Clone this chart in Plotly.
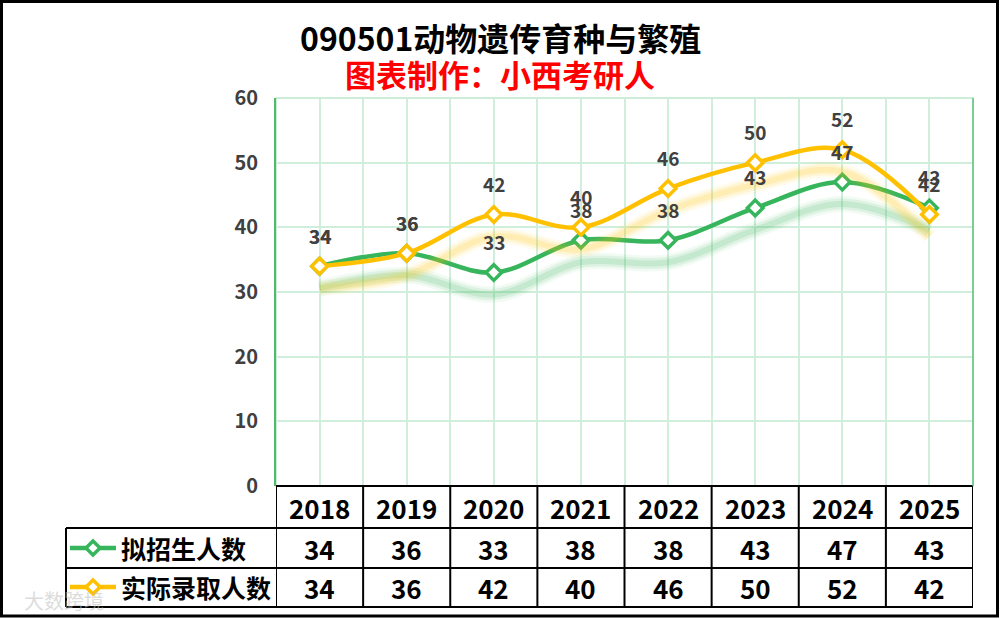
import plotly.graph_objects as go

# 090501 动物遗传育种与繁殖 拟招生 / 实际录取
years = [2018, 2019, 2020, 2021, 2022, 2023, 2024, 2025]
plan_counts = [34, 36, 33, 38, 38, 43, 47, 43]
admit_counts = [34, 36, 42, 40, 46, 50, 52, 42]
series_names = ["拟招生人数", "实际录取人数"]

GREEN = "#37b55c"
GOLD = "#ffc000"
LABEL_GRAY = "#404040"
GRID = "#cfeedb"
FONT = "Noto Sans CJK SC"

# plot area in pixels (used for placing table / title in paper coords)
PX_L, PX_R, PX_T, PX_B = 276, 973, 98, 486


def px(p):
    return (p - PX_L) / (PX_R - PX_L)


def py(p):
    return (PX_B - p) / (PX_B - PX_T)


fig = go.Figure()

# soft blurred shadows under the lines (drawn on a shifted copy of the y axis)
for vals, shade in ((plan_counts, "55,181,92"), (admit_counts, "255,192,0")):
    for w, a in ((16, 0.07), (11, 0.10), (6, 0.15)):
        fig.add_trace(go.Scatter(
            x=years, y=vals, yaxis="y2", mode="lines",
            line=dict(color=f"rgba({shade},{a})", width=w, shape="spline", smoothing=1),
            hoverinfo="skip", showlegend=False,
        ))

for vals, color, name in ((plan_counts, GREEN, series_names[0]), (admit_counts, GOLD, series_names[1])):
    fig.add_trace(go.Scatter(
        x=years, y=vals, name=name, mode="lines+markers",
        line=dict(color=color, width=4.5, shape="spline", smoothing=1),
        marker=dict(symbol="diamond", size=12, color="white", line=dict(color=color, width=3.5)),
        showlegend=False,
    ))

annotations = []
# data labels
for vals in (plan_counts, admit_counts):
    for yr, v in zip(years, vals):
        annotations.append(dict(
            x=yr, y=v, text=str(v), showarrow=False, yshift=31,
            xanchor="center", yanchor="middle",
            font=dict(family=FONT, size=19, color=LABEL_GRAY, weight="bold"),
        ))


def paper_text(x, y, text, font, xanchor="center"):
    return dict(xref="paper", yref="paper", x=x, y=y, text=text, showarrow=False,
                xanchor=xanchor, yanchor="middle", font=font)


# titles
annotations.append(paper_text(px(500), py(37), "090501动物遗传育种与繁殖",
                              dict(family=FONT, size=32, color="black", weight="bold")))
annotations.append(paper_text(px(500), py(73), "图表制作：小西考研人",
                              dict(family=FONT, size=31, color="#ff0000", weight="bold")))

# data table below the plot
shapes = []
black = dict(color="black", width=2)
row_tops = [486, 528, 568, 607]
shapes.append(dict(type="line", xref="paper", yref="paper", x0=px(PX_L), x1=px(PX_R),
                   y0=py(row_tops[0]), y1=py(row_tops[0]), line=black))
for r in row_tops[1:]:
    shapes.append(dict(type="line", xref="paper", yref="paper", x0=px(66), x1=px(PX_R),
                       y0=py(r), y1=py(r), line=black))
shapes.append(dict(type="line", xref="paper", yref="paper", x0=px(66), x1=px(66),
                   y0=py(528), y1=py(607), line=black))
for b in [y - 0.5 for y in years] + [years[-1] + 0.5]:
    shapes.append(dict(type="line", xref="x", yref="paper", x0=b, x1=b,
                       y0=py(486), y1=py(607), line=black))

cell_font = dict(family=FONT, size=26, color="black", weight="bold")
name_font = dict(family=FONT, size=25, color="black", weight="bold")
for yr in years:
    annotations.append(dict(x=yr, xref="x", yref="paper", y=py(507), text=str(yr),
                            showarrow=False, xanchor="center", yanchor="middle", font=cell_font))
for vals, yc in ((plan_counts, 548), (admit_counts, 587)):
    for yr, v in zip(years, vals):
        annotations.append(dict(x=yr, xref="x", yref="paper", y=py(yc), text=str(v),
                                showarrow=False, xanchor="center", yanchor="middle",
                                font=cell_font))

# legend keys inside the table
for name, color, yc in ((series_names[0], GREEN, 548), (series_names[1], GOLD, 587)):
    shapes.append(dict(type="line", xref="paper", yref="paper", x0=px(70), x1=px(116),
                       y0=py(yc), y1=py(yc), line=dict(color=color, width=4.5)))
    cx, d = 93, 7
    path = (f"M {px(cx - d)} {py(yc)} L {px(cx)} {py(yc - d)} "
            f"L {px(cx + d)} {py(yc)} L {px(cx)} {py(yc + d)} Z")
    shapes.append(dict(type="path", xref="paper", yref="paper", path=path,
                       fillcolor="white", line=dict(color=color, width=3.5)))
    annotations.append(paper_text(px(119), py(yc), name, name_font, xanchor="left"))

# plot frame (light green) and outer border
shapes.append(dict(type="rect", xref="paper", yref="paper", x0=0, x1=1, y0=0, y1=1,
                   line=dict(color="#bfe8cc", width=1.5), layer="below"))
shapes.append(dict(type="line", xref="paper", yref="paper", x0=1, x1=1, y0=0, y1=1,
                   line=dict(color="#5cc47c", width=1.5)))
shapes.append(dict(type="rect", xref="paper", yref="paper", x0=px(1.5), x1=px(997.5),
                   y0=py(1.5), y1=py(616), line=dict(color="black", width=3)))

# faint source watermark
annotations.append(paper_text(px(22), py(600), "大数跨境",
                              dict(family=FONT, size=20, color="rgba(190,190,190,0.55)"),
                              xanchor="left"))

fig.update_layout(
    template="plotly_white",
    width=1000,
    height=619,
    plot_bgcolor="white",
    paper_bgcolor="white",
    margin=dict(l=PX_L, r=1000 - PX_R, t=PX_T, b=619 - PX_B),
    xaxis=dict(range=[2017.5, 2025.5], tick0=2017.5, dtick=0.5, showticklabels=False,
               showgrid=True, gridcolor=GRID, gridwidth=1.5, zeroline=False, fixedrange=True),
    yaxis=dict(range=[0, 60], dtick=10, showgrid=True, gridcolor=GRID, gridwidth=1.5,
               zeroline=False, showline=True, linecolor="#4cbb6c", linewidth=2,
               ticklabelstandoff=12,
               tickfont=dict(family=FONT, size=20, color=LABEL_GRAY, weight="bold")),
    yaxis2=dict(range=[3.4, 63.4], overlaying="y", visible=False),
    shapes=shapes,
    annotations=annotations,
    showlegend=False,
)

fig.write_html("out.html", config={"displayModeBar": False},
               post_script="document.body.style.margin = '0px';")
